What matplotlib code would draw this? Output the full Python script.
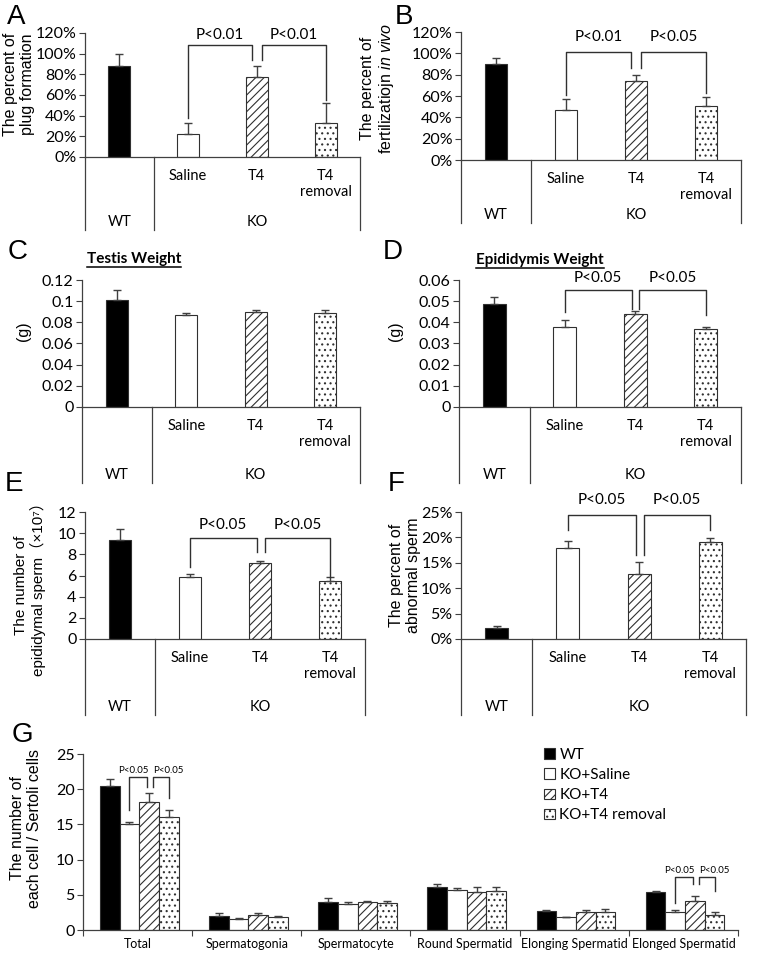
import numpy as np
import matplotlib
matplotlib.use("Agg")
import matplotlib.pyplot as plt
from matplotlib.patches import Patch
from matplotlib.lines import Line2D

W, H = 762, 955

plt.rcParams["font.family"] = ["Lato", "DejaVu Sans"]
plt.rcParams["hatch.linewidth"] = 0.8
plt.rcParams["mathtext.fontset"] = "custom"
plt.rcParams["mathtext.it"] = "Liberation Sans:italic"
plt.rcParams["mathtext.rm"] = "Liberation Sans"

# ---- data ----
GROUPS = ["WT", "KO+Saline", "KO+T4", "KO+T4 removal"]
INNER = ["", "Saline", "T4", "T4\nremoval"]
OUTER = ["WT", "KO"]

PLUG = [88, 22, 77, 33]
PLUG_ERR = [12, 11, 11, 19]
FERT = [90, 47, 74, 51]
FERT_ERR = [6, 10, 6, 8]
TESTIS = [0.101, 0.087, 0.090, 0.089]
TESTIS_ERR = [0.010, 0.002, 0.002, 0.003]
EPID = [0.0485, 0.038, 0.044, 0.037]
EPID_ERR = [0.0035, 0.003, 0.0015, 0.001]
SPERM = [9.4, 5.9, 7.2, 5.5]
SPERM_ERR = [1.0, 0.2, 0.2, 0.35]
ABNORMAL = [2.2, 18.0, 12.7, 19.0]
ABNORMAL_ERR = [0.3, 1.2, 2.5, 0.8]

CELL_TYPES = ["Total", "Spermatogonia", "Spermatocyte", "Round Spermatid",
              "Elonging Spermatid", "Elonged Spermatid"]
CELLS_WT = [20.4, 2.0, 4.0, 6.15, 2.7, 5.35]
CELLS_WT_ERR = [1.0, 0.35, 0.5, 0.35, 0.15, 0.25]
CELLS_SAL = [15.0, 1.55, 3.65, 5.7, 1.8, 2.5]
CELLS_SAL_ERR = [0.4, 0.1, 0.35, 0.2, 0.1, 0.35]
CELLS_T4 = [18.2, 2.2, 4.0, 5.35, 2.5, 4.15]
CELLS_T4_ERR = [1.2, 0.15, 0.15, 0.8, 0.35, 0.7]
CELLS_REM = [16.0, 1.9, 3.9, 5.6, 2.5, 2.2]
CELLS_REM_ERR = [1.0, 0.15, 0.15, 0.45, 0.45, 0.4]

# ---- styles ----
EDGE = "#303030"
AXC = "#404040"
FACES = ["black", "white", "white", "white"]
HATCHES = [None, None, "////", "..."]
LABEL_FONT = ["Liberation Sans", "DejaVu Sans", "Noto Sans CJK JP"]

fig = plt.figure(figsize=(W / 100, H / 100), dpi=100)


def px_axes(l, t, r, b):
    return fig.add_axes([l / W, 1 - b / H, (r - l) / W, (b - t) / H])


def fig_text(x, y, s, **kw):
    return fig.text(x / W, 1 - y / H, s, **kw)


def style_axes(ax):
    for s in ("top", "right"):
        ax.spines[s].set_visible(False)
    for s in ("left", "bottom"):
        ax.spines[s].set_color(AXC)
        ax.spines[s].set_linewidth(0.9)
    ax.tick_params(axis="y", colors=AXC, labelcolor="black", length=4,
                   width=0.8, labelsize=11.5, pad=2)


def bracket(ax, x1, x2, y1, y2, top, text, ty, fs=11, dx=0.0):
    ax.plot([x1, x1, x2, x2], [y1, top, top, y2], color=EDGE, lw=1,
            clip_on=False, zorder=4)
    ax.text((x1 + x2) / 2 + dx, ty, text, ha="center", va="center",
            fontsize=fs, clip_on=False)


def small_panel(geom, vals, errs, ymax, ticks, ticklabels, letter, ylabel,
                ylab_pos, brackets=(), title=None, ylab_fs=11.5):
    l, t, r, b, bb = geom
    ax = px_axes(l, t, r, b)
    style_axes(ax)
    x = np.arange(4)
    for i in range(4):
        ax.bar(x[i], vals[i], width=0.32, color=FACES[i], hatch=HATCHES[i],
               edgecolor=EDGE, linewidth=0.8, zorder=2)
    ax.errorbar(x, vals, yerr=[np.zeros(4), errs], fmt="none", ecolor=AXC,
                elinewidth=1, capsize=3, capthick=1, zorder=3)
    ax.set_xlim(-0.5, 3.5)
    ax.set_ylim(0, ymax)
    ax.set_yticks(ticks)
    ax.set_yticklabels(ticklabels)
    ax.set_xticks([])
    for (x1, x2, y1, y2, top, txt, ty) in brackets:
        bracket(ax, x1, x2, y1, y2, top, txt, ty)

    # two-level category box below the axis
    bx = px_axes(l, b, r, bb)
    bx.set_xlim(-0.5, 3.5)
    bx.set_ylim(bb - b, 0)
    bx.axis("off")
    for xv in (-0.5, 0.5, 3.5):
        bx.plot([xv, xv], [0, bb - b], color=AXC, lw=0.9, clip_on=False)
    for i, s in enumerate(INNER):
        if s:
            bx.text(i, 12, s, ha="center", va="top", fontsize=10.5,
                    linespacing=1.2)
    bx.text(0, bb - b - 8, OUTER[0], ha="center", va="center", fontsize=10.5)
    bx.text(2, bb - b - 8, OUTER[1], ha="center", va="center", fontsize=10.5)

    fig_text(ylab_pos[0], ylab_pos[1], ylabel, rotation=90, ha="center",
             va="center", fontsize=ylab_fs, family=LABEL_FONT, linespacing=1.1)
    lx, ly = letter[1]
    fig_text(lx, ly, letter[0], fontsize=20, family="Liberation Sans",
             ha="left", va="baseline")
    if title:
        tt = fig_text(title[1], title[2], title[0], fontsize=11,
                      fontweight="bold", ha="left", va="center")
        return ax, tt
    return ax, None


pct = ["0%", "20%", "40%", "60%", "80%", "100%", "120%"]

# A
small_panel((85, 33, 360, 157, 230), PLUG, PLUG_ERR, 120,
            np.arange(0, 121, 20), pct, ("A", (7, 24)),
            "The percent of\nplug formation", (19, 84),
            brackets=[(1, 1.93, 38, 94, 108, "P<0.01", 118),
                      (2.07, 3, 94, 55, 108, "P<0.01", 118)])
# B
small_panel((461, 32, 741, 160, 223), FERT, FERT_ERR, 120,
            np.arange(0, 121, 20), pct, ("B", (395, 24)),
            "The percent of\nfertilizatiojn $\\it{in\\ vivo}$", (378, 88),
            brackets=[(1, 1.93, 61, 86, 101, "P<0.01", 115),
                      (2.07, 3, 86, 63, 101, "P<0.05", 115)])
# C
_, tC = small_panel((82, 280, 360, 407, 483), TESTIS, TESTIS_ERR, 0.12,
                    np.arange(0, 0.121, 0.02),
                    ["0", "0.02", "0.04", "0.06", "0.08", "0.1", "0.12"],
                    ("C", (8, 259)), "(g)", (24, 331),
                    title=("Testis Weight", 87, 259))
# D
_, tD = small_panel((459, 280, 741, 407, 483), EPID, EPID_ERR, 0.06,
                    np.arange(0, 0.061, 0.01),
                    ["0", "0.01", "0.02", "0.03", "0.04", "0.05", "0.06"],
                    ("D", (383, 259)), "(g)", (396, 331),
                    brackets=[(1, 1.95, 0.0449, 0.0463, 0.0553, "P<0.05", 0.061),
                              (2.05, 3, 0.0463, 0.0435, 0.0553, "P<0.05", 0.061)],
                    title=("Epididymis Weight", 476, 260))
# E
small_panel((85, 512, 365, 639, 715), SPERM, SPERM_ERR, 12,
            np.arange(0, 13, 2), [str(v) for v in range(0, 13, 2)],
            ("E", (5, 491)),
            "The number of\nepididymal sperm\uff08\u00d710\u2077\uff09", (30, 585),
            ylab_fs=11)
# E brackets drawn through the same helper (kept separate for clarity)
axE = fig.axes[-2]
for br in [(1, 1.95, 6.8, 8.2, 9.5, "P<0.05", 10.8),
           (2.07, 3, 8.2, 5.9, 9.5, "P<0.05", 10.8)]:
    bracket(axE, *br)
# F
small_panel((461, 512, 746, 639, 715), ABNORMAL, ABNORMAL_ERR, 25,
            np.arange(0, 26, 5), ["0%", "5%", "10%", "15%", "20%", "25%"],
            ("F", (388, 491)),
            "The percent of\nabnormal sperm", (405, 575),
            brackets=[(1, 1.95, 21.5, 16.5, 24.4, "P<0.05", 27.4),
                      (2.07, 3, 16.5, 21.5, 24.4, "P<0.05", 27.4)])

# G
axg = px_axes(83, 754, 738, 930)
style_axes(axg)
bw = 0.18
xg = np.arange(len(CELL_TYPES))
series = [(CELLS_WT, CELLS_WT_ERR), (CELLS_SAL, CELLS_SAL_ERR),
          (CELLS_T4, CELLS_T4_ERR), (CELLS_REM, CELLS_REM_ERR)]
for k, (v, e) in enumerate(series):
    xs = xg + (k - 1.5) * bw + 0.015
    axg.bar(xs, v, width=bw, color=FACES[k], hatch=HATCHES[k],
            edgecolor=EDGE, linewidth=0.8, zorder=2)
    axg.errorbar(xs, v, yerr=[np.zeros(len(v)), e], fmt="none", ecolor=AXC,
                 elinewidth=1, capsize=3, capthick=1, zorder=3)
axg.set_xlim(-0.5, len(CELL_TYPES) - 0.5)
axg.set_ylim(0, 25)
axg.set_yticks(np.arange(0, 26, 5))
axg.set_xticks(np.arange(-0.5, len(CELL_TYPES), 1))
axg.set_xticklabels([])
axg.set_xticks(xg, minor=True)
axg.set_xticklabels(CELL_TYPES, minor=True, fontsize=9)
axg.tick_params(axis="x", which="major", colors=AXC, length=4, width=0.8)
axg.tick_params(axis="x", which="minor", length=0, pad=6)


def gx(i, k):
    return i + (k - 1.5) * bw + 0.015


for i, legs, top, ty in [(0, (17.0, 20.3, 18.7), 21.7, 22.7),
                         (5, (3.8, 6.6, 5.6), 7.5, 8.5)]:
    bracket(axg, gx(i, 1), gx(i, 2) - 0.02, legs[0], legs[1], top, "P<0.05",
            ty, fs=7, dx=-0.04)
    bracket(axg, gx(i, 2) + 0.035, gx(i, 3), legs[1], legs[2], top, "P<0.05",
            ty, fs=7, dx=0.07)

handles = [Patch(facecolor=FACES[k], hatch=HATCHES[k], edgecolor=EDGE,
                 linewidth=0.8) for k in range(4)]
axg.legend(handles, GROUPS, loc="upper left", frameon=False,
           bbox_to_anchor=(544 / W, 1 - 748 / H), bbox_transform=fig.transFigure,
           borderpad=0, borderaxespad=0, handlelength=0.7, handleheight=0.7,
           handletextpad=0.3, labelspacing=0.4, fontsize=11)
fig_text(26, 828, "The number of\neach cell / Sertoli cells", rotation=90,
         ha="center", va="center", fontsize=11.5, family=LABEL_FONT,
         linespacing=1.1)
fig_text(12, 742, "G", fontsize=20, family="Liberation Sans", ha="left",
         va="baseline")

# underline the C / D titles
fig.canvas.draw()
rend = fig.canvas.get_renderer()
for tt in (tC, tD):
    ext = tt.get_window_extent(rend)
    yl = ext.y0 - 1
    fig.add_artist(Line2D([ext.x0 / W, ext.x1 / W], [yl / H, yl / H],
                          transform=fig.transFigure, color="black", lw=1.1))

fig.savefig("out.png", dpi=100)
